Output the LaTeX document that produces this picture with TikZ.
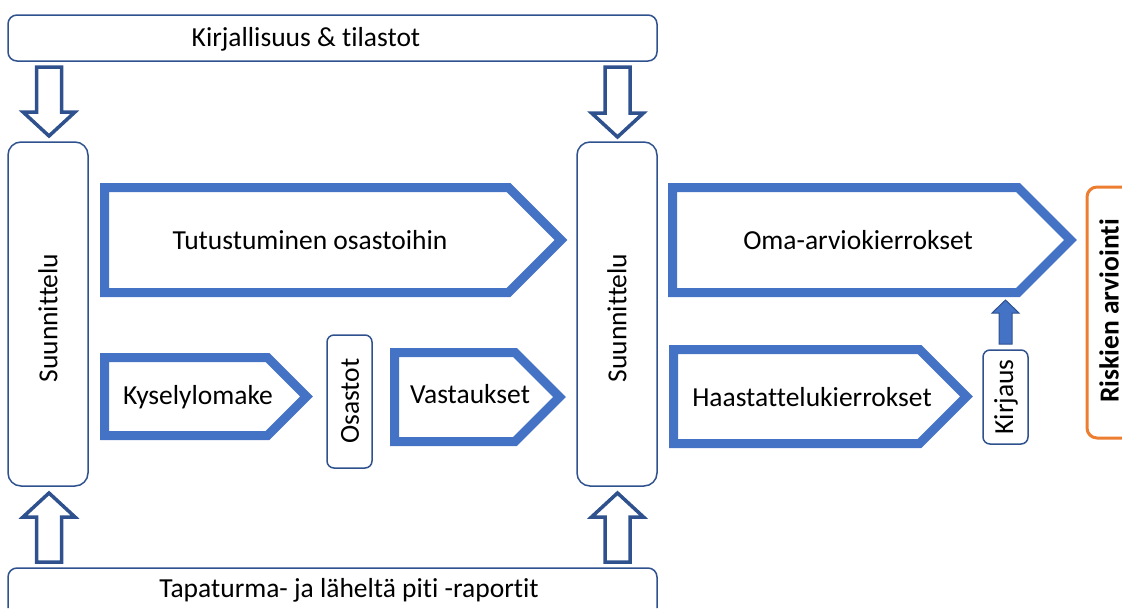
\documentclass[tikz,border=0pt]{standalone}
\usepackage{fontspec}
\setmainfont{Carlito}[Ligatures=NoCommon]
\definecolor{arrowblue}{HTML}{4472C4}
\definecolor{darkblue}{HTML}{2F528F}
\definecolor{riskorange}{HTML}{ED7D31}
\newcommand\pentarrow[5]{% left, top, bottom, corner, tip
  \draw[pent] (#1,#2) -- (#4,#2) -- (#5,{(#2+#3)/2}) -- (#4,#3) -- (#1,#3) -- cycle;}
\newcommand\downblock[5]{% center x, top y, head base y, tip y, dummy
  \draw[hollow] ({#1-12.5},#2) -- ({#1+12.5},#2) -- ({#1+12.5},#3) -- ({#1+26},#3) -- (#1,#4) -- ({#1-26},#3) -- ({#1-12.5},#3) -- cycle;}
\begin{document}
\begin{tikzpicture}[x=1pt,y=-1pt,
  every node/.style={font=\fontsize{27.5}{32}\selectfont, inner sep=0pt},
  rbox/.style={draw=darkblue, line width=1.5pt, rounded corners=9pt, fill=white},
  pent/.style={draw=arrowblue, line width=9pt, miter limit=10},
  hollow/.style={draw=darkblue, line width=3.5pt, fill=white, miter limit=10},
  lbl/.style={text=black}]
\useasboundingbox (0,0) rectangle (1122,608);
% top and bottom boxes
\draw[rbox] (8,15) rectangle (657,61);
\node[lbl] (lit) at (306,39) {Kirjallisuus \& tilastot};
\draw[rbox] (8,608) -- (8,568) -- (657,568) -- (657,608);
\node[lbl] (rap) at (349,590) {Tapaturma- ja läheltä piti -raportit};
% Suunnittelu boxes
\draw[rbox, rounded corners=13pt] (8,142) rectangle (88,486);
\node[lbl, rotate=90] (s1) at (48,318) {Suunnittelu};
\draw[rbox, rounded corners=13pt] (577,142) rectangle (657,486);
\node[lbl, rotate=90] (s2) at (617,318) {Suunnittelu};
% hollow block arrows
\downblock{49}{67}{112}{136}{}
\downblock{617.5}{67}{113}{137}{}
\downblock{49}{562}{517}{493}{}
\downblock{617.5}{562}{517}{493}{}
% pentagon arrows
\pentarrow{104.5}{187.5}{292.5}{508.5}{561}
\node[lbl] (tut) at (310,240) {Tutustuminen osastoihin};
\pentarrow{672.5}{187.5}{292.5}{1018}{1070.5}
\node[lbl] (oma) at (858,240) {Oma-arviokierrokset};
\pentarrow{104.5}{357.5}{435.5}{267.5}{306.5}
\node[lbl] (kys) at (198,397) {Kyselylomake};
\pentarrow{394.5}{352.5}{441.5}{515}{559.5}
\node[lbl] (vas) at (470,394) {Vastaukset};
\pentarrow{673.5}{349.5}{443.5}{919.5}{966.5}
\node[lbl] (haa) at (812,397) {Haastattelukierrokset};
% Osastot
\draw[rbox, rounded corners=7pt] (327,335) rectangle (372,468);
\node[lbl, rotate=90] (osa) at (350,401) {Osastot};
% Kirjaus
\draw[rbox, rounded corners=7pt] (983,350) rectangle (1028,444);
\node[lbl, rotate=90] (kir) at (1006,397) {Kirjaus};
\draw[draw=darkblue, line width=1pt, fill=arrowblue] (999,344) -- (1012,344) -- (1012,313) -- (1019,313) -- (1005.5,300) -- (992,313) -- (999,313) -- cycle;
% Riskien arviointi
\draw[draw=riskorange, line width=3pt, rounded corners=10pt] (1122,187) -- (1087,187) -- (1087,438) -- (1122,438);
\node[lbl, rotate=90, font=\fontsize{27.5}{32}\selectfont\bfseries] (ris) at (1109,311) {Riskien arviointi};
\end{tikzpicture}
\end{document}
